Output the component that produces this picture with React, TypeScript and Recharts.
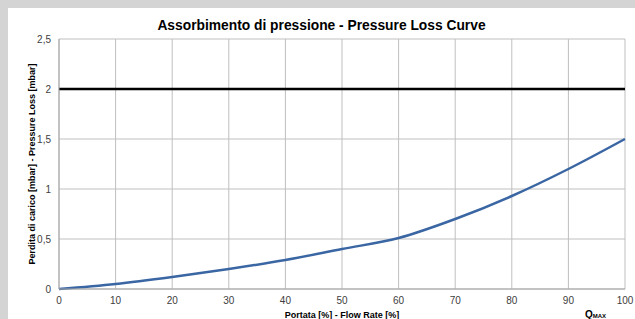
import { LineChart, Line, XAxis, YAxis, CartesianGrid, ReferenceLine, Label } from "recharts";

const flowRate = [0, 10, 20, 30, 40, 50, 60, 70, 80, 90, 100];
const pressureLoss = [0, 0.05, 0.12, 0.2, 0.29, 0.4, 0.51, 0.7, 0.93, 1.2, 1.5];
const xTicks = [0, 10, 20, 30, 40, 50, 60, 70, 80, 90, 100];
const yTicks = [0, 0.5, 1, 1.5, 2, 2.5];
const limitLoss = 2;

const data = flowRate.map((f, i) => ({ flow: f, loss: pressureLoss[i] }));

const font = "'Liberation Sans Narrow', 'Liberation Sans', Arial, sans-serif";
const tickStyle = { fontSize: 10, fill: "#404040", fontFamily: font };

export default function App() {
  return (
    <div style={{ position: "fixed", left: 0, top: 0, width: 635, height: 319, background: "#d4d4d4", overflow: "hidden" }}>
      <div style={{ position: "absolute", left: 8, top: 8, width: 627, height: 311, background: "#fff" }}>
        <div
          style={{
            position: "absolute",
            left: 0,
            top: 11,
            width: 627,
            textAlign: "center",
            fontFamily: font,
            fontWeight: 700,
            fontSize: 13.8,
            lineHeight: "14px",
            color: "#000",
          }}
        >
          Assorbimento di pressione - Pressure Loss Curve
        </div>
        <div style={{ position: "absolute", left: 577, top: 301, fontFamily: font, fontWeight: 700, fontSize: 10, color: "#000" }}>
          Q<span style={{ fontSize: 6 }}>MAX</span>
        </div>
        <LineChart width={627} height={311} data={data} margin={{ top: 31, right: 10, left: 0, bottom: 0 }}>
          <CartesianGrid stroke="#bfbfbf" strokeWidth={1} />
          <XAxis
            dataKey="flow"
            type="number"
            domain={[0, 100]}
            ticks={xTicks}
            tickLine={false}
            stroke="#a6a6a6"
            tick={tickStyle}
            height={30}
            interval={0}
          >
            <Label
              value="Portata [%] - Flow Rate [%]"
              position="insideBottom"
              offset={1}
              style={{ fontSize: 9, fontWeight: 700, fill: "#000", fontFamily: font }}
            />
          </XAxis>
          <YAxis
            type="number"
            domain={[0, 2.5]}
            ticks={yTicks}
            tickLine={false}
            stroke="#a6a6a6"
            width={51}
            tick={tickStyle}
            interval={0}
            tickFormatter={(v: number) => String(v).replace(".", ",")}
          >
            <Label
              value="Perdita di carico [mbar] - Pressure Loss [mbar]"
              angle={-90}
              position="insideLeft"
              offset={24}
              style={{ fontSize: 9, fontWeight: 700, fill: "#000", fontFamily: font, textAnchor: "middle" }}
            />
          </YAxis>
          <ReferenceLine y={limitLoss} stroke="#000" strokeWidth={2.5} />
          <Line
            type="monotone"
            dataKey="loss"
            stroke="#3a66a3"
            strokeWidth={2.5}
            dot={false}
            isAnimationActive={false}
          />
        </LineChart>
      </div>
    </div>
  );
}
